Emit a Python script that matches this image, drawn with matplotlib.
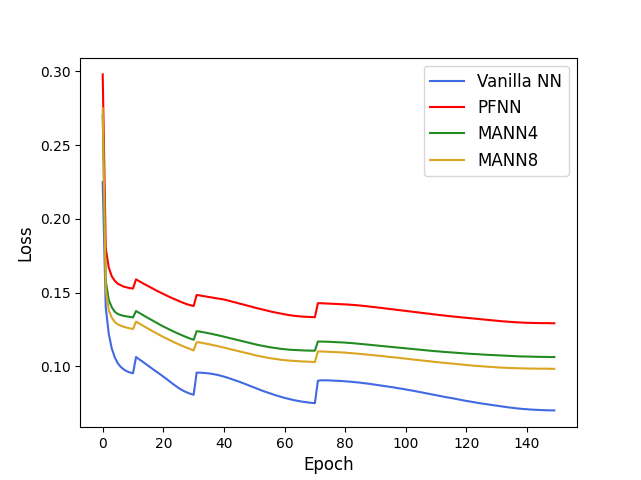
import numpy as np
import matplotlib
matplotlib.use("Agg")
import matplotlib.pyplot as plt

# Training loss per epoch (restarts at 11, 31, 71)
vanilla_nn = [
    0.225, 0.140, 0.122, 0.112, 0.106, 0.102, 0.0995, 0.0978, 0.0966, 0.0958, 0.0953,
    0.1063, 0.1048, 0.1034, 0.1019, 0.1004, 0.0989, 0.0974, 0.0960, 0.0945, 0.0930,
    0.0915, 0.0899, 0.0883, 0.0868, 0.0854, 0.0841, 0.0830, 0.0821, 0.0813, 0.0807,
    0.0957, 0.0957, 0.0956, 0.0954, 0.0952, 0.0949, 0.0945, 0.0941, 0.0936, 0.0930,
    0.0924, 0.0917, 0.0910, 0.0903, 0.0896, 0.0888, 0.0880, 0.0872, 0.0864, 0.0856,
    0.0848, 0.0840, 0.0832, 0.0825, 0.0818, 0.0811, 0.0804, 0.0798, 0.0792, 0.0786,
    0.0781, 0.0776, 0.0771, 0.0767, 0.0763, 0.0760, 0.0757, 0.0754, 0.0752, 0.0750,
    0.0902, 0.0905, 0.0905, 0.0905, 0.0904, 0.0903, 0.0902, 0.0901, 0.0900, 0.0898,
    0.0897, 0.0895, 0.0893, 0.0891, 0.0889, 0.0886, 0.0884, 0.0881, 0.0878, 0.0875,
    0.0872, 0.0869, 0.0866, 0.0863, 0.0860, 0.0857, 0.0853, 0.0850, 0.0847, 0.0843,
    0.0839, 0.0836, 0.0832, 0.0828, 0.0824, 0.0820, 0.0816, 0.0812, 0.0808, 0.0804,
    0.0800, 0.0796, 0.0792, 0.0788, 0.0785, 0.0781, 0.0777, 0.0773, 0.0769, 0.0765,
    0.0762, 0.0758, 0.0755, 0.0751, 0.0748, 0.0745, 0.0742, 0.0739, 0.0736, 0.0733,
    0.0730, 0.0727, 0.0724, 0.0721, 0.0719, 0.0716, 0.0714, 0.0712, 0.0710, 0.0709,
    0.0707, 0.0706, 0.0705, 0.0704, 0.0703, 0.0702, 0.0702, 0.0701, 0.0701,
]

pfnn = [
    0.298, 0.180, 0.167, 0.161, 0.158, 0.156, 0.155, 0.154, 0.1535, 0.153, 0.1528,
    0.1590, 0.1578, 0.1566, 0.1555, 0.1544, 0.1533, 0.1522, 0.1511, 0.1501, 0.1491,
    0.1481, 0.1471, 0.1462, 0.1453, 0.1444, 0.1435, 0.1427, 0.1420, 0.1414, 0.1409,
    0.1484, 0.1481, 0.1477, 0.1474, 0.1470, 0.1467, 0.1463, 0.1460, 0.1457, 0.1453,
    0.1448, 0.1443, 0.1437, 0.1432, 0.1426, 0.1421, 0.1416, 0.1410, 0.1405, 0.1399,
    0.1394, 0.1389, 0.1384, 0.1379, 0.1374, 0.1369, 0.1365, 0.1361, 0.1357, 0.1353,
    0.1349, 0.1346, 0.1343, 0.1341, 0.1339, 0.1337, 0.1336, 0.1335, 0.1334, 0.1333,
    0.1428, 0.1428, 0.1427, 0.1426, 0.1425, 0.1424, 0.1423, 0.1422, 0.1421, 0.1420,
    0.1419, 0.1417, 0.1416, 0.1414, 0.1412, 0.1410, 0.1408, 0.1405, 0.1403, 0.1401,
    0.1398, 0.1396, 0.1393, 0.1391, 0.1388, 0.1386, 0.1383, 0.1381, 0.1378, 0.1376,
    0.1373, 0.1371, 0.1368, 0.1366, 0.1363, 0.1361, 0.1358, 0.1356, 0.1353, 0.1351,
    0.1348, 0.1346, 0.1344, 0.1341, 0.1339, 0.1337, 0.1335, 0.1333, 0.1331, 0.1329,
    0.1327, 0.1325, 0.1323, 0.1321, 0.1319, 0.1317, 0.1315, 0.1313, 0.1311, 0.1309,
    0.1307, 0.1305, 0.1304, 0.1302, 0.1301, 0.1299, 0.1298, 0.1297, 0.1296, 0.1295,
    0.1295, 0.1294, 0.1294, 0.1293, 0.1293, 0.1293, 0.1293, 0.1292, 0.1292,
]

mann4 = [
    0.270, 0.158, 0.145, 0.140, 0.137, 0.1355, 0.1347, 0.1342, 0.1338, 0.1335, 0.1332,
    0.1375, 0.1363, 0.1351, 0.1339, 0.1327, 0.1316, 0.1304, 0.1293, 0.1281, 0.1270,
    0.1260, 0.1250, 0.1240, 0.1230, 0.1221, 0.1212, 0.1203, 0.1195, 0.1187, 0.1180,
    0.1238, 0.1236, 0.1232, 0.1228, 0.1224, 0.1220, 0.1215, 0.1211, 0.1206, 0.1201,
    0.1196, 0.1191, 0.1186, 0.1181, 0.1176, 0.1171, 0.1166, 0.1161, 0.1156, 0.1151,
    0.1146, 0.1142, 0.1138, 0.1134, 0.1130, 0.1127, 0.1124, 0.1121, 0.1118, 0.1116,
    0.1114, 0.1112, 0.1111, 0.1110, 0.1109, 0.1108, 0.1107, 0.1107, 0.1106, 0.1106,
    0.1168, 0.1168, 0.1167, 0.1167, 0.1166, 0.1165, 0.1164, 0.1163, 0.1162, 0.1161,
    0.1159, 0.1158, 0.1156, 0.1154, 0.1152, 0.1150, 0.1148, 0.1146, 0.1144, 0.1142,
    0.1140, 0.1138, 0.1136, 0.1134, 0.1132, 0.1130, 0.1128, 0.1126, 0.1124, 0.1122,
    0.1120, 0.1118, 0.1116, 0.1114, 0.1112, 0.1110, 0.1108, 0.1106, 0.1104, 0.1102,
    0.1101, 0.1099, 0.1097, 0.1096, 0.1094, 0.1093, 0.1091, 0.1090, 0.1088, 0.1087,
    0.1085, 0.1084, 0.1083, 0.1082, 0.1080, 0.1079, 0.1078, 0.1077, 0.1076, 0.1075,
    0.1074, 0.1073, 0.1072, 0.1071, 0.1070, 0.1069, 0.1068, 0.1067, 0.1067, 0.1066,
    0.1066, 0.1065, 0.1065, 0.1064, 0.1064, 0.1064, 0.1063, 0.1063, 0.1063,
]

mann8 = [
    0.275, 0.152, 0.138, 0.133, 0.130, 0.1285, 0.1275, 0.1268, 0.1262, 0.1257, 0.1253,
    0.1303, 0.1291, 0.1279, 0.1267, 0.1255, 0.1244, 0.1232, 0.1221, 0.1210, 0.1199,
    0.1189, 0.1179, 0.1169, 0.1159, 0.1150, 0.1141, 0.1132, 0.1124, 0.1116, 0.1108,
    0.1164, 0.1162, 0.1158, 0.1154, 0.1150, 0.1146, 0.1141, 0.1137, 0.1132, 0.1127,
    0.1122, 0.1117, 0.1112, 0.1107, 0.1102, 0.1097, 0.1092, 0.1087, 0.1082, 0.1077,
    0.1072, 0.1068, 0.1064, 0.1060, 0.1056, 0.1053, 0.1050, 0.1047, 0.1044, 0.1042,
    0.1040, 0.1038, 0.1037, 0.1036, 0.1034, 0.1033, 0.1032, 0.1031, 0.1030, 0.1029,
    0.1101, 0.1101, 0.1100, 0.1099, 0.1098, 0.1097, 0.1096, 0.1095, 0.1094, 0.1093,
    0.1091, 0.1089, 0.1088, 0.1086, 0.1084, 0.1082, 0.1080, 0.1078, 0.1076, 0.1074,
    0.1072, 0.1070, 0.1068, 0.1065, 0.1063, 0.1061, 0.1059, 0.1057, 0.1054, 0.1052,
    0.1050, 0.1047, 0.1045, 0.1043, 0.1040, 0.1038, 0.1036, 0.1034, 0.1031, 0.1029,
    0.1027, 0.1025, 0.1023, 0.1021, 0.1019, 0.1017, 0.1015, 0.1013, 0.1011, 0.1009,
    0.1007, 0.1005, 0.1003, 0.1002, 0.1000, 0.0999, 0.0997, 0.0996, 0.0995, 0.0993,
    0.0992, 0.0991, 0.0990, 0.0989, 0.0988, 0.0988, 0.0987, 0.0986, 0.0986, 0.0985,
    0.0985, 0.0985, 0.0984, 0.0984, 0.0984, 0.0984, 0.0984, 0.0983, 0.0983,
]

for s in (vanilla_nn, pfnn, mann4, mann8):
    assert len(s) == 150, len(s)

epochs = np.arange(150)

plt.figure(figsize=(6.41, 4.8), dpi=100)
plt.plot(epochs, vanilla_nn, color='royalblue', label='Vanilla NN')
plt.plot(epochs, pfnn, color='red', label='PFNN')
plt.plot(epochs, mann4, color='forestgreen', label='MANN4')
plt.plot(epochs, mann8, color='goldenrod', label='MANN8')
plt.xlabel('Epoch', fontsize=12)
plt.ylabel('Loss', fontsize=12)
plt.legend(loc='upper right', fontsize=12)
plt.savefig('out.png', dpi=100)
